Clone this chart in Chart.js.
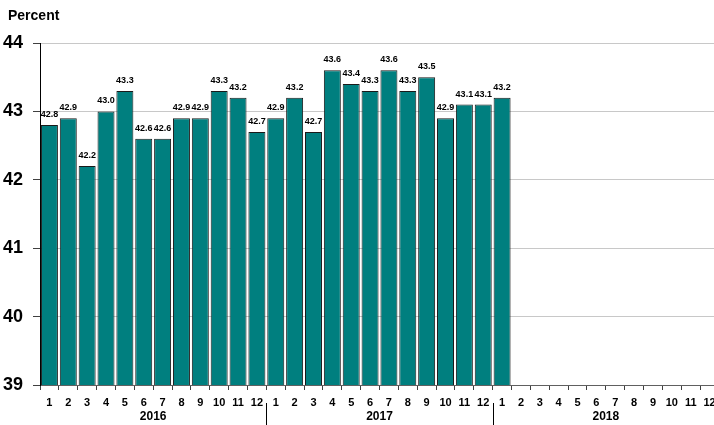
<!DOCTYPE html>
<html>
<head>
<meta charset="utf-8">
<script src="https://cdn.jsdelivr.net/npm/chart.js@4/dist/chart.umd.min.js"></script>
<style>
  html, body { margin: 0; padding: 0; background: #fff; overflow: hidden; width: 714px; height: 425px; }
  canvas { display: block; }
</style>
</head>
<body>
<canvas id="chart" width="730" height="425"></canvas>
<script>
// Monthly values, in percent
const years = ['2016', '2017', '2018'];
const months = ['1','2','3','4','5','6','7','8','9','10','11','12'];
const values2016 = [42.8, 42.9, 42.2, 43.0, 43.3, 42.6, 42.6, 42.9, 42.9, 43.3, 43.2, 42.7];
const values2017 = [42.9, 43.2, 42.7, 43.6, 43.4, 43.3, 43.6, 43.3, 43.5, 42.9, 43.1, 43.1];
const values2018 = [43.2, null, null, null, null, null, null, null, null, null, null, null];
const yMin = 39, yMax = 44;
const unitLabel = 'Percent';

const FONT = "'Liberation Sans', Arial, Helvetica, sans-serif";
const labels = years.flatMap(() => months);
const values = [...values2016, ...values2017, ...values2018];

const overlay = {
  id: 'overlay',
  afterDatasetsDraw(chart) {
    const ctx = chart.ctx;
    const meta = chart.getDatasetMeta(0);
    ctx.save();
    // value labels above bars
    ctx.fillStyle = '#000';
    ctx.font = 'bold 9px ' + FONT;
    ctx.textAlign = 'center';
    ctx.textBaseline = 'alphabetic';
    meta.data.forEach((bar, i) => {
      const v = values[i];
      if (v == null) return;
      ctx.fillText(v.toFixed(1), bar.x, bar.y - 8);
    });
    ctx.restore();
  },
  afterDraw(chart) {
    const ctx = chart.ctx;
    const x = chart.scales.x;
    ctx.save();
    // unit label
    ctx.fillStyle = '#000';
    ctx.font = 'bold 14px ' + FONT;
    ctx.textAlign = 'left';
    ctx.textBaseline = 'alphabetic';
    ctx.fillText(unitLabel, 8, 20);
    // year labels and separators
    ctx.font = 'bold 12px ' + FONT;
    ctx.textAlign = 'center';
    ctx.textBaseline = 'middle';
    years.forEach((yr, k) => {
      const first = x.getPixelForValue(k * 12);
      const last = x.getPixelForValue(k * 12 + 11);
      ctx.fillText(yr, (first + last) / 2, 417);
      if (k > 0) {
        const sep = Math.round((x.getPixelForValue(k * 12 - 1) + first) / 2) + 0.5;
        ctx.strokeStyle = '#000';
        ctx.lineWidth = 1;
        ctx.beginPath();
        ctx.moveTo(sep, 403);
        ctx.lineTo(sep, 425);
        ctx.stroke();
      }
    });
    ctx.restore();
  }
};

new Chart(document.getElementById('chart'), {
  type: 'bar',
  data: {
    labels,
    datasets: [{
      data: values,
      backgroundColor: '#007f7f',
      borderColor: '#1a1a1a',
      borderWidth: 1,
      categoryPercentage: 1.0,
      barPercentage: 0.9
    }]
  },
  options: {
    responsive: false,
    animation: false,
    layout: { padding: { top: 43, right: 11, left: 0, bottom: 0 } },
    plugins: { legend: { display: false }, tooltip: { enabled: false }, title: { display: false } },
    scales: {
      x: {
        offset: true,
        afterFit(scale) { scale.height = 40; },
        grid: { display: true, drawOnChartArea: false, offset: true, tickLength: 5, tickColor: '#404040' },
        border: { color: '#606060', width: 1 },
        ticks: {
          autoSkip: false, maxRotation: 0, minRotation: 0, padding: 6,
          color: '#000', font: { family: FONT, size: 11, weight: 'bold' }
        }
      },
      y: {
        min: yMin, max: yMax,
        afterFit(scale) { scale.width = 40; },
        grid: { color: '#c8c8c8', tickLength: 7, tickColor: '#404040' },
        border: { color: '#000', width: 1 },
        ticks: {
          stepSize: 1, padding: 10, color: '#000',
          font: { family: FONT, size: 18, weight: 'bold' }
        }
      }
    }
  },
  plugins: [overlay]
});
</script>
</body>
</html>
